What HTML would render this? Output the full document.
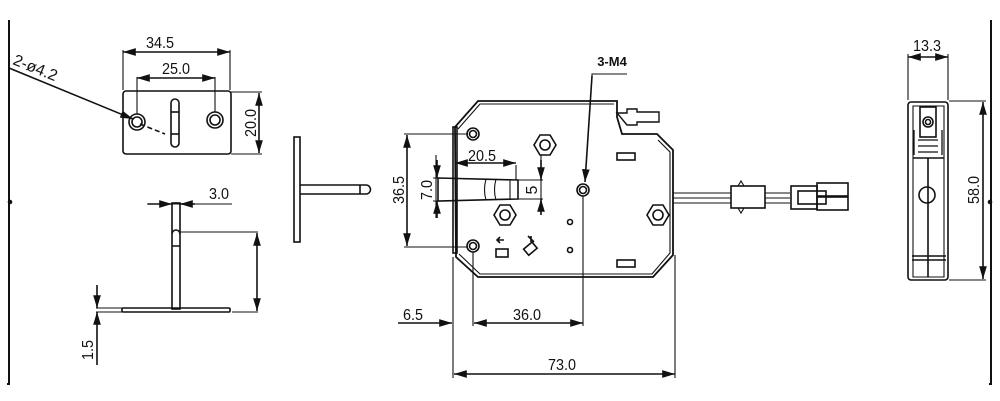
<!DOCTYPE html>
<html><head><style>
html,body{margin:0;padding:0;background:#fff;}
svg{display:block;}
text{font-family:"Liberation Sans",sans-serif;fill:#111;}
</style></head><body>
<svg width="1000" height="401" viewBox="0 0 1000 401" xmlns="http://www.w3.org/2000/svg">
<defs>
<marker id="a" viewBox="0 0 10 6" refX="10" refY="3" markerWidth="8" markerHeight="5" orient="auto-start-reverse"><path d="M0,0L10,3L0,6z" fill="#111"/></marker>
</defs>
<g stroke="#111" fill="none" stroke-width="1.6">
<path d="M9,20V384M7,384h3" stroke-width="2"/>
<path d="M991,20V384M989,384h3" stroke-width="2"/>
<circle cx="10" cy="202" r="1.5" fill="#111"/>
<circle cx="990" cy="202" r="1.5" fill="#111"/>

<rect x="123" y="91" width="108" height="63" rx="3"/>
<rect x="171" y="99" width="8" height="48" rx="4"/>
<line x1="171" y1="112" x2="179" y2="112"/><line x1="171" y1="134" x2="179" y2="134"/>
<circle cx="137" cy="122" r="8"/><circle cx="137" cy="122" r="5"/>
<circle cx="215" cy="120" r="8"/><circle cx="215" cy="120" r="5"/>
<path d="M123,90V50M230,90V50" stroke-width="1.1"/>
<line x1="123" y1="52" x2="230" y2="52" marker-start="url(#a)" marker-end="url(#a)"/>
<path d="M137,114V77M215,112V77" stroke-width="1.1"/>
<line x1="137" y1="78" x2="215" y2="78" marker-start="url(#a)" marker-end="url(#a)"/>
<path d="M231,92H262M231,154H262" stroke-width="1.1"/>
<line x1="259" y1="93" x2="259" y2="153" marker-start="url(#a)" marker-end="url(#a)"/>
<line x1="9" y1="68" x2="133" y2="119" marker-end="url(#a)"/>
<line x1="140" y1="124" x2="165" y2="134" stroke-dasharray="5,3"/>

<rect x="294" y="137" width="6" height="105"/>
<path d="M300,185H366a4,4 0 0 1 0,9H300"/>
<line x1="360" y1="185" x2="360" y2="194"/>

<rect x="172" y="203" width="8" height="106"/>
<path d="M172,234a4,4 0 0 1 8,0M172,246h8"/>
<rect x="122" y="308" width="108" height="4" rx="1"/>
<path d="M147,204h85" stroke-width="1.1"/>
<line x1="148" y1="204" x2="172" y2="204" marker-end="url(#a)"/>
<line x1="195" y1="204" x2="180" y2="204" marker-end="url(#a)"/>
<path d="M180,232H258M232,312H258M96,308h26" stroke-width="1.1"/>
<line x1="257" y1="233" x2="257" y2="311" marker-start="url(#a)" marker-end="url(#a)"/>
<line x1="97" y1="285" x2="97" y2="308" marker-end="url(#a)"/>
<line x1="97" y1="365" x2="97" y2="312" marker-end="url(#a)"/>
<path d="M96,312h26" stroke-width="1.1"/>

<path d="M455,127L478,101H617V117L622,134H657L673,150V255L653,277H478L456,257Z" stroke-width="1.8"/>
<path d="M458,129L480,104H614M658,140L670,152V253L652,274H480L459,254" stroke-width="1.1"/>
<rect x="453" y="127" width="4" height="126"/>
<path d="M617,113h10v-4h10v3h22v10h-22v3h-10z" stroke-width="1.4"/>
<circle cx="473" cy="134" r="6"/><circle cx="473" cy="134" r="3.5"/>
<circle cx="473" cy="246" r="6"/><circle cx="473" cy="246" r="3.5"/>
<circle cx="583" cy="190" r="6"/><circle cx="583" cy="190" r="3.5"/>
<polygon points="540,135 550,135 556,145 550,155 540,155 534,145"/><circle cx="545" cy="145" r="5"/>
<polygon points="500,205 510,205 516,215 510,225 500,225 494,215"/><circle cx="505" cy="215" r="5"/>
<polygon points="653,205 663,205 669,215 663,225 653,225 647,215"/><circle cx="658" cy="215" r="5"/>
<circle cx="570" cy="222" r="2.5"/><circle cx="570" cy="250" r="2.5"/>
<rect x="617" y="153" width="18" height="7"/><rect x="617" y="260" width="18" height="7"/>
<rect x="496" y="249" width="12" height="8"/>
<rect x="525" y="245" width="11" height="8" transform="rotate(-40 530 249)"/>
<path d="M498,240h6M500,237l-3,3l3,3M528,236l6,6M531,236v6"/>
<path d="M438,178L518,180V199L438,201Z"/>
<path d="M486,179q-3,11 0,21M496,179q-3,11 0,21M510,180v20" stroke-width="1.1"/>
<path d="M404,134H468M404,247H468" stroke-width="1.1"/>
<line x1="407" y1="135" x2="407" y2="246" marker-start="url(#a)" marker-end="url(#a)"/>
<path d="M436,155V218M433,178h6M433,201h6" stroke-width="1.1"/>
<line x1="437" y1="160" x2="437" y2="178" marker-end="url(#a)"/>
<line x1="437" y1="218" x2="437" y2="201" marker-end="url(#a)"/>
<path d="M516,165V180" stroke-width="1.1"/>
<line x1="455" y1="163" x2="516" y2="163" marker-start="url(#a)" marker-end="url(#a)"/>
<path d="M541,155V215M518,180h25M518,199h25" stroke-width="1.1"/>
<line x1="541" y1="160" x2="541" y2="180" marker-end="url(#a)"/>
<line x1="541" y1="215" x2="541" y2="199" marker-end="url(#a)"/>
<path d="M453,257V378M473,252V326M583,196V326M675,255V378" stroke-width="1.1"/>
<line x1="398" y1="323" x2="452" y2="323" marker-end="url(#a)"/>
<line x1="474" y1="323" x2="583" y2="323" marker-start="url(#a)" marker-end="url(#a)"/>
<line x1="454" y1="374" x2="675" y2="374" marker-start="url(#a)" marker-end="url(#a)"/>
<path d="M627,74H592V78" stroke-width="1.1"/>
<line x1="592" y1="76" x2="585" y2="182" marker-end="url(#a)"/>
<path d="M673,193H731M673,198H731M673,203H731M765,193H790M765,198H790M765,203H790" stroke-width="1.1"/>
<rect x="731" y="186" width="34" height="22"/>
<path d="M738,186l3,-5l3,5M738,208l3,5l3,-5" stroke-width="1.1"/>
<rect x="791" y="186" width="26" height="23"/>
<rect x="817" y="183" width="31" height="13"/><rect x="817" y="197" width="31" height="13"/>
<rect x="798" y="191" width="28" height="13"/>
<rect x="908" y="102" width="40" height="178" rx="3"/>
<path d="M913,106H944V277H913Z" stroke-width="1.1"/>
<path d="M913,158H944M912,256H946M912,260H946M928,158V277"/>
<rect x="920" y="107" width="16" height="30"/>
<circle cx="928" cy="122" r="5"/><circle cx="928" cy="122" r="2.5"/>
<path d="M918,140h20M918,146h20M918,152h20M914,130v25M942,130v25" stroke-width="1.3"/>
<circle cx="927" cy="195" r="8"/>
<path d="M908,100V54M948,100V54M949,101H986M949,280H986" stroke-width="1.1"/>
<line x1="908" y1="57" x2="948" y2="57" marker-start="url(#a)" marker-end="url(#a)"/>
<line x1="983" y1="102" x2="983" y2="279" marker-start="url(#a)" marker-end="url(#a)"/>
</g>
<g font-size="16">
<text transform="translate(160,48) scale(0.9,1)" text-anchor="middle">34.5</text>
<text transform="translate(176,74) scale(0.9,1)" text-anchor="middle">25.0</text>
<text transform="translate(256,123) rotate(-90) scale(0.9,1)" text-anchor="middle">20.0</text>
<text transform="translate(12,64) rotate(22)">2-ø4.2</text>
<text transform="translate(219,199) scale(0.9,1)" text-anchor="middle">3.0</text>
<text transform="translate(93,350) rotate(-90) scale(0.9,1)" text-anchor="middle">1.5</text>
<text transform="translate(404,190) rotate(-90) scale(0.9,1)" text-anchor="middle">36.5</text>
<text transform="translate(432,190) rotate(-90) scale(0.9,1)" text-anchor="middle">7.0</text>
<text transform="translate(482,161) scale(0.9,1)" text-anchor="middle">20.5</text>
<text transform="translate(537,190) rotate(-90)" text-anchor="middle">5</text>
<text transform="translate(413,320) scale(0.9,1)" text-anchor="middle">6.5</text>
<text transform="translate(527,320) scale(0.9,1)" text-anchor="middle">36.0</text>
<text transform="translate(562,370) scale(0.9,1)" text-anchor="middle">73.0</text>
<text x="612" y="66" text-anchor="middle" font-size="13" font-weight="bold">3-M4</text>
<text transform="translate(927,51) scale(0.9,1)" text-anchor="middle">13.3</text>
<text transform="translate(979,190) rotate(-90) scale(0.9,1)" text-anchor="middle">58.0</text>
</g>
</svg>
</body></html>
